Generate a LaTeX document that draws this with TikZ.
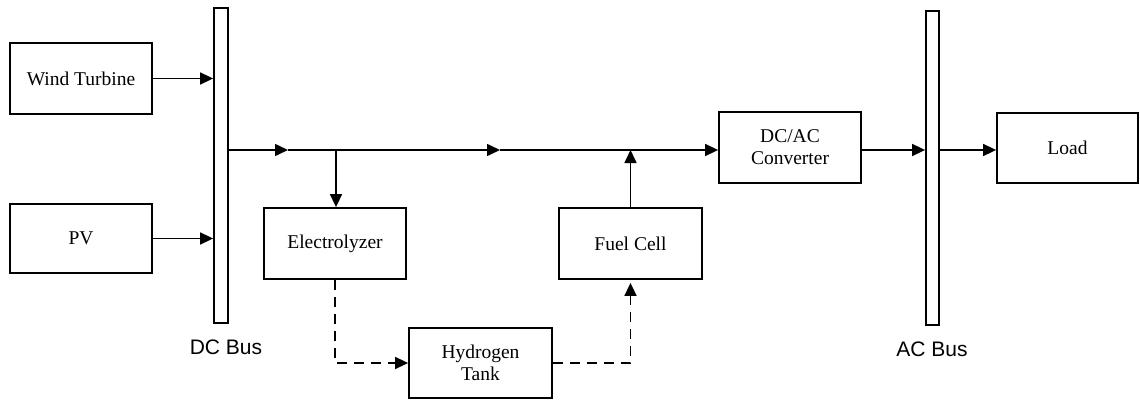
\documentclass[tikz,border=0pt]{standalone}
\usepackage{fontspec}
\setmainfont{Liberation Serif}
\newfontfamily\labelfont{Liberation Sans}
\usetikzlibrary{arrows.meta}
\begin{document}
\begin{tikzpicture}[x=1pt,y=-1pt,
  box/.style={draw, line width=1.8pt, inner sep=0pt, align=center,
    minimum width=142pt, minimum height=71pt,
    font=\fontsize{19.5}{22}\selectfont},
  bus/.style={draw, line width=1.8pt, inner sep=0pt, minimum width=14pt},
  buslabel/.style={font=\labelfont\fontsize{21}{24}\selectfont},
  flow/.style={line width=1.6pt, -{Triangle[length=13pt,width=12pt]}},
  gasflow/.style={flow, dash pattern=on 10pt off 7pt}]
\useasboundingbox (0,0) rectangle (1140,401);

% sources and the DC bus
\node[box] (wind) at (81,78.5) {Wind Turbine};
\node[box, minimum height=69pt] (pv) at (81,238.5) {PV};
\node[bus, minimum height=315pt] (dcbus) at (221,165.5) {};
\node[buslabel] (dclabel) at (226,347) {DC Bus};

% hydrogen storage path
\node[box] (elec) at (335,243.5) {Electrolyzer};
\node[box, minimum width=143pt] (fuel) at (630.5,243.5) {Fuel Cell};
\node[box, minimum width=143pt, minimum height=70pt] (tank) at (480.5,363)
  {\fontsize{19.5}{19}\selectfont Hydrogen\\Tank};

% conversion, AC bus and load
\node[box] (conv) at (790,147.5) {\fontsize{19.5}{24}\selectfont DC/AC\\Converter};
\node[bus, minimum width=13pt, minimum height=314pt] (acbus) at (932.5,168) {};
\node[buslabel] (aclabel) at (932,349) {AC Bus};
\node[box, minimum width=141pt, minimum height=70pt] (load) at (1067.5,148) {Load};

% junctions on the main power line
\coordinate (m1) at (288,150);
\coordinate (br) at (336,150);
\coordinate (m2) at (500,150);

% power flow
\draw[flow] (wind.east) -- (wind.east -| dcbus.west);
\draw[flow] (pv.east) -- (pv.east -| dcbus.west);
\draw[flow] (dcbus.east |- m1) -- (m1);
\draw[flow] (m1) -- (m2);
\draw[flow] (m2) -- (conv.west |- m2);
\draw[flow] (br) -- (br |- elec.north);
\draw[flow] (fuel.north) -- (fuel.north |- m2);
\draw[flow] (conv.east |- m2) -- (acbus.west |- m2);
\draw[flow] (acbus.east |- m2) -- (load.west |- m2);

% hydrogen flow
\draw[gasflow] (elec.south) |- (tank.west);
\draw[gasflow, shorten >=3pt] (tank.east) -| (fuel.south);
\end{tikzpicture}
\end{document}
